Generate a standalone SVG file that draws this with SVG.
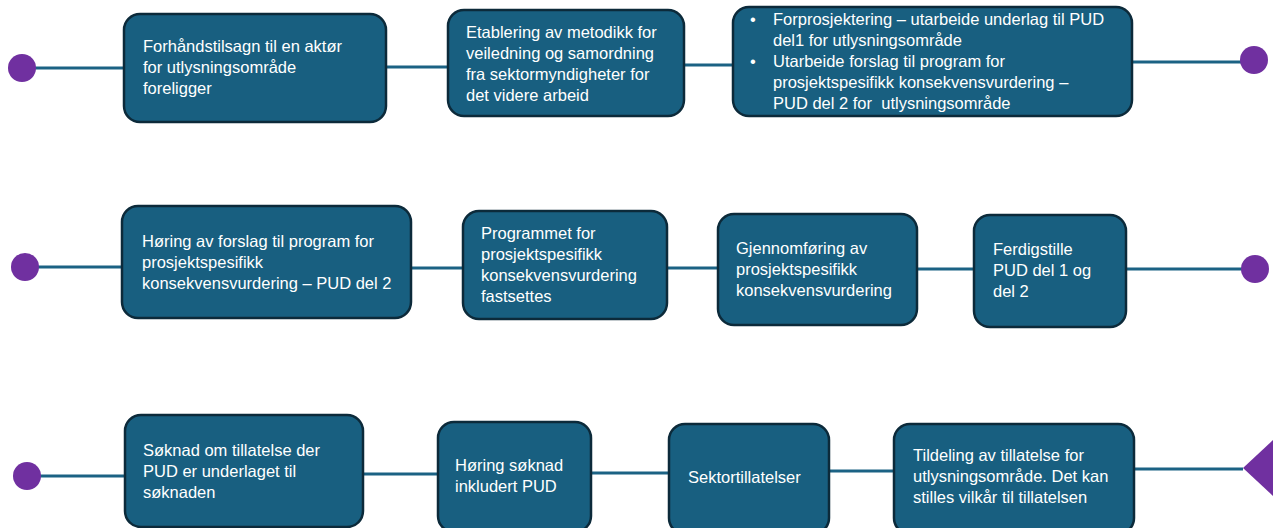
<svg xmlns="http://www.w3.org/2000/svg" width="1273" height="528" viewBox="0 0 1273 528">
<style>
.box{fill:#185f80;stroke:#0c2a3a;stroke-width:2.5}
.t{fill:#ffffff;font-family:"Liberation Sans",Arial,sans-serif;font-size:16.5px;white-space:pre}
.ln{stroke:#1b6284;stroke-width:3;fill:none}
.end{fill:#7030a0}
</style>
<rect width="1273" height="528" fill="#ffffff"/>
<g id="connectors">
<path class="ln" d="M22 68 H124"/>
<path class="ln" d="M386 67 H448"/>
<path class="ln" d="M684 65 H733"/>
<path class="ln" d="M1132 62 H1254"/>
<path class="ln" d="M25 267 H122"/>
<path class="ln" d="M411 268 H463"/>
<path class="ln" d="M667 268 H718"/>
<path class="ln" d="M917 269 H974"/>
<path class="ln" d="M1126 269 H1255"/>
<path class="ln" d="M27 476 H125"/>
<path class="ln" d="M363 474 H438"/>
<path class="ln" d="M591 473 H669"/>
<path class="ln" d="M829 471 H894"/>
<path class="ln" d="M1134 469 H1243"/>
<circle class="end" cx="22" cy="68" r="14"/>
<circle class="end" cx="1254" cy="60" r="14"/>
<circle class="end" cx="25" cy="267" r="14"/>
<circle class="end" cx="1255" cy="269" r="14"/>
<circle class="end" cx="27" cy="476" r="14"/>
<polygon class="end" points="1243,468 1273,440 1273,496"/>
</g>
<g id="n1"><rect class="box" x="124" y="14" width="262" height="108" rx="16"/>
<text class="t"><tspan x="143" y="52">Forhåndstilsagn til en aktør</tspan><tspan x="143" y="73">for utlysningsområde</tspan><tspan x="143" y="94">foreligger</tspan></text></g>
<g id="n2"><rect class="box" x="448" y="10" width="236" height="106" rx="16"/>
<text class="t"><tspan x="466" y="38">Etablering av metodikk for</tspan><tspan x="466" y="59">veiledning og samordning</tspan><tspan x="466" y="80">fra sektormyndigheter for</tspan><tspan x="466" y="101">det videre arbeid</tspan></text></g>
<g id="n3"><rect class="box" x="733" y="7" width="399" height="109" rx="16"/>
<text class="t"><tspan x="750" y="25">•</tspan><tspan x="773" y="25">Forprosjektering – utarbeide underlag til PUD</tspan><tspan x="773" y="46">del1 for utlysningsområde</tspan><tspan x="750" y="67">•</tspan><tspan x="773" y="67">Utarbeide forslag til program for</tspan><tspan x="773" y="88">prosjektspesifikk konsekvensvurdering –</tspan><tspan x="773" y="109">PUD del 2 for  utlysningsområde</tspan></text></g>
<g id="n4"><rect class="box" x="122" y="206" width="289" height="112" rx="16"/>
<text class="t"><tspan x="142" y="247">Høring av forslag til program for</tspan><tspan x="142" y="268">prosjektspesifikk</tspan><tspan x="142" y="289">konsekvensvurdering – PUD del 2</tspan></text></g>
<g id="n5"><rect class="box" x="463" y="211" width="204" height="108" rx="16"/>
<text class="t"><tspan x="481" y="239">Programmet for</tspan><tspan x="481" y="260">prosjektspesifikk</tspan><tspan x="481" y="281">konsekvensvurdering</tspan><tspan x="481" y="302">fastsettes</tspan></text></g>
<g id="n6"><rect class="box" x="718" y="214" width="199" height="111" rx="16"/>
<text class="t"><tspan x="736" y="254">Gjennomføring av</tspan><tspan x="736" y="275">prosjektspesifikk</tspan><tspan x="736" y="296">konsekvensvurdering</tspan></text></g>
<g id="n7"><rect class="box" x="974" y="215" width="152" height="112" rx="16"/>
<text class="t"><tspan x="993" y="255">Ferdigstille</tspan><tspan x="993" y="276">PUD del 1 og</tspan><tspan x="993" y="297">del 2</tspan></text></g>
<g id="n8"><rect class="box" x="125" y="415" width="238" height="112" rx="16"/>
<text class="t"><tspan x="143" y="456">Søknad om tillatelse der</tspan><tspan x="143" y="477">PUD er underlaget til</tspan><tspan x="143" y="498">søknaden</tspan></text></g>
<g id="n9"><rect class="box" x="438" y="422" width="153" height="110" rx="16"/>
<text class="t"><tspan x="455" y="471">Høring søknad</tspan><tspan x="455" y="492">inkludert PUD</tspan></text></g>
<g id="n10"><rect class="box" x="669" y="424" width="160" height="110" rx="16"/>
<text class="t"><tspan x="688" y="483">Sektortillatelser</tspan></text></g>
<g id="n11"><rect class="box" x="894" y="424" width="240" height="110" rx="16"/>
<text class="t"><tspan x="913" y="461">Tildeling av tillatelse for</tspan><tspan x="913" y="482">utlysningsområde. Det kan</tspan><tspan x="913" y="503">stilles vilkår til tillatelsen</tspan></text></g>
</svg>
